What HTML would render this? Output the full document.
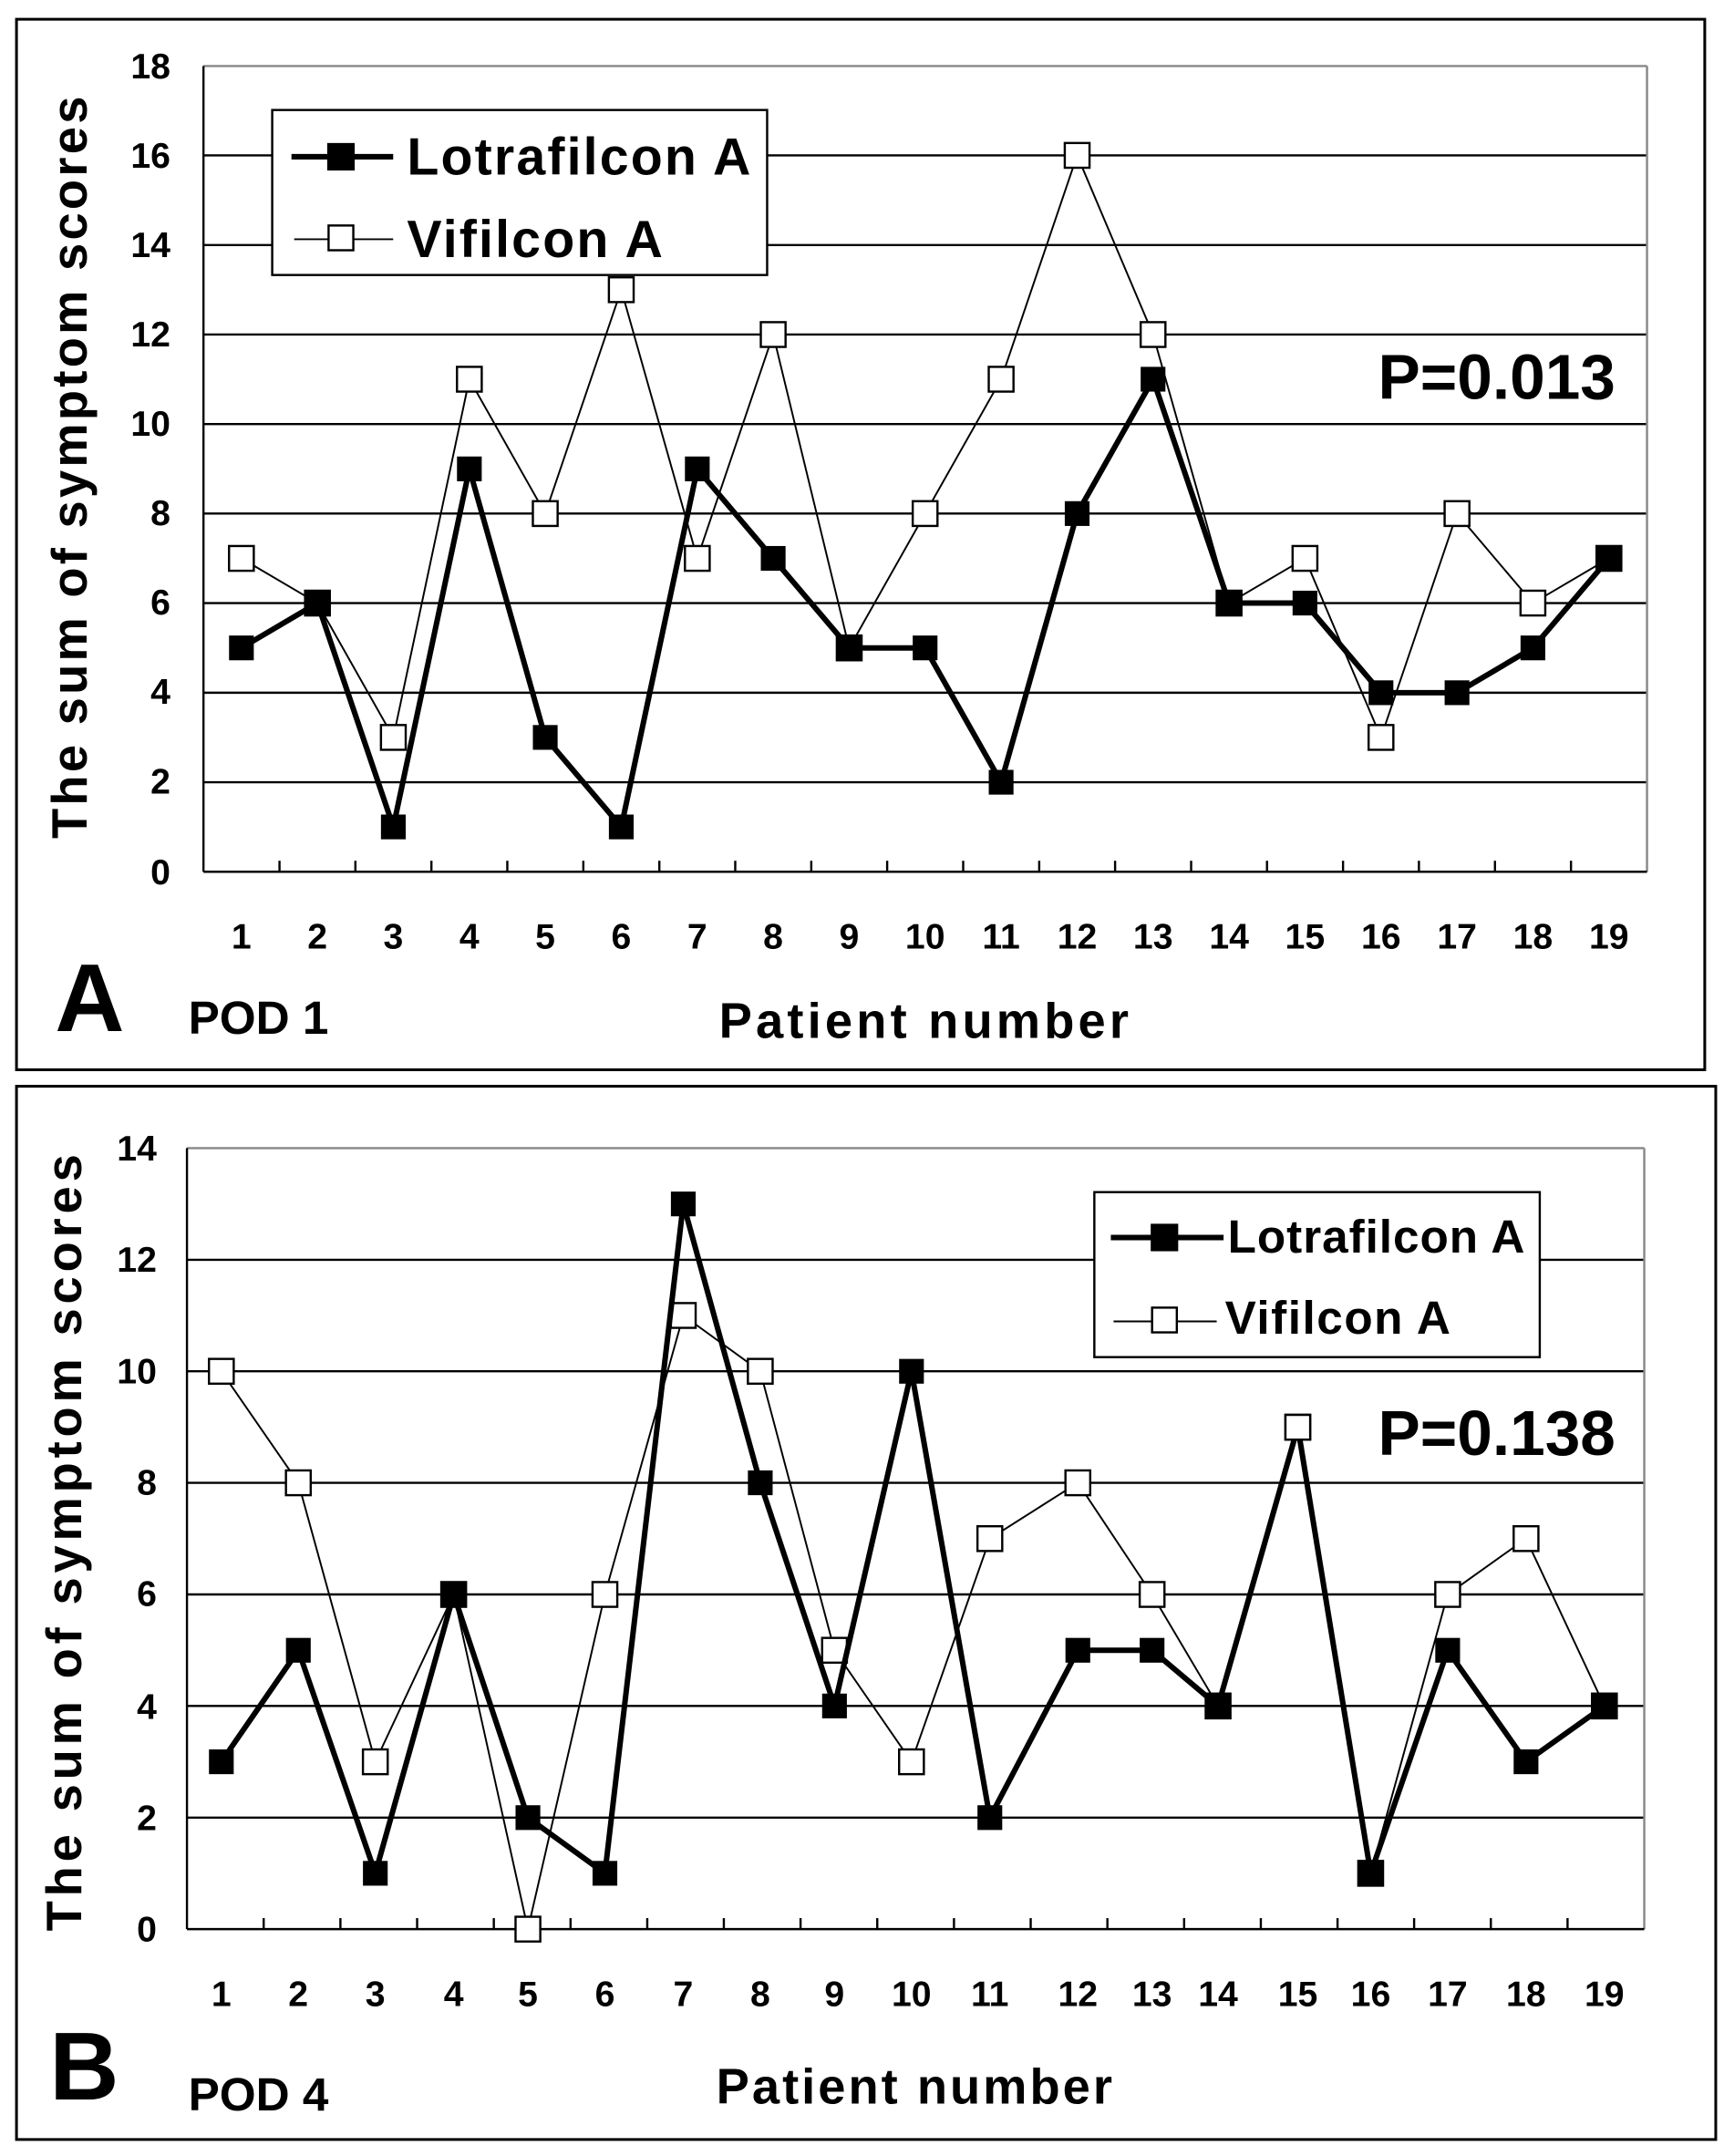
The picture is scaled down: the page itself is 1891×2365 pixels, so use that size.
<!DOCTYPE html>
<html><head><style>html,body{margin:0;padding:0;background:#fff}svg{display:block}</style></head>
<body>
<svg width="1891" height="2365" viewBox="0 0 1254 1568" preserveAspectRatio="none" xmlns="http://www.w3.org/2000/svg" font-family="Liberation Sans, Arial, sans-serif" font-weight="bold">
<defs>
<marker id="mf" markerUnits="userSpaceOnUse" markerWidth="22" markerHeight="22" refX="11" refY="11" overflow="visible"><rect x="2" y="2" width="18" height="18" fill="#000"/></marker>
<marker id="mo" markerUnits="userSpaceOnUse" markerWidth="22" markerHeight="22" refX="11" refY="11" overflow="visible"><rect x="2" y="2" width="18" height="18" fill="#fff" stroke="#000" stroke-width="1.6"/></marker>
</defs>
<rect width="1254" height="1568" fill="#fff"/>
<!-- Panel A -->
<rect x="12" y="14" width="1228" height="764" fill="none" stroke="#000" stroke-width="2"/>
<g stroke="#000" stroke-width="1.6">
<line x1="148" y1="48" x2="1198" y2="48" stroke="#888"/>
<line x1="148" y1="113" x2="1198" y2="113"/><line x1="148" y1="178.2" x2="1198" y2="178.2"/><line x1="148" y1="243.3" x2="1198" y2="243.3"/><line x1="148" y1="308.4" x2="1198" y2="308.4"/><line x1="148" y1="373.5" x2="1198" y2="373.5"/><line x1="148" y1="438.6" x2="1198" y2="438.6"/><line x1="148" y1="503.8" x2="1198" y2="503.8"/><line x1="148" y1="568.9" x2="1198" y2="568.9"/>
<line x1="148" y1="48" x2="148" y2="634"/><line x1="1198" y1="48" x2="1198" y2="634" stroke="#888"/>
<line x1="148" y1="634" x2="1198" y2="634"/>
</g>
<g stroke="#000" stroke-width="1.6">
<line x1="203.3" y1="626" x2="203.3" y2="634"/><line x1="258.5" y1="626" x2="258.5" y2="634"/><line x1="313.8" y1="626" x2="313.8" y2="634"/><line x1="369" y1="626" x2="369" y2="634"/><line x1="424.3" y1="626" x2="424.3" y2="634"/><line x1="479.6" y1="626" x2="479.6" y2="634"/><line x1="534.8" y1="626" x2="534.8" y2="634"/><line x1="590.1" y1="626" x2="590.1" y2="634"/><line x1="645.3" y1="626" x2="645.3" y2="634"/><line x1="700.6" y1="626" x2="700.6" y2="634"/><line x1="755.9" y1="626" x2="755.9" y2="634"/><line x1="811.1" y1="626" x2="811.1" y2="634"/><line x1="866.4" y1="626" x2="866.4" y2="634"/><line x1="921.6" y1="626" x2="921.6" y2="634"/><line x1="976.9" y1="626" x2="976.9" y2="634"/><line x1="1032.1" y1="626" x2="1032.1" y2="634"/><line x1="1087.4" y1="626" x2="1087.4" y2="634"/><line x1="1142.7" y1="626" x2="1142.7" y2="634"/>
</g>
<polyline fill="none" stroke="#000" stroke-width="1.3" marker-start="url(#mo)" marker-mid="url(#mo)" marker-end="url(#mo)" points="175.6,406.1 230.9,438.6 286.1,536.3 341.4,275.8 396.6,373.5 451.9,210.7 507.2,406.1 562.4,243.3 617.7,471.2 672.9,373.5 728.2,275.8 783.5,113 838.7,243.3 894,438.6 949.2,406.1 1004.5,536.3 1059.8,373.5 1115,438.6 1170.3,406.1"/>
<polyline fill="none" stroke="#000" stroke-width="4" marker-start="url(#mf)" marker-mid="url(#mf)" marker-end="url(#mf)" points="175.6,471.2 230.9,438.6 286.1,601.4 341.4,341 396.6,536.3 451.9,601.4 507.2,341 562.4,406.1 617.7,471.2 672.9,471.2 728.2,568.9 783.5,373.5 838.7,275.8 894,438.6 949.2,438.6 1004.5,503.8 1059.8,503.8 1115,471.2 1170.3,406.1"/>
<rect x="198" y="80" width="360" height="120" fill="#fff" stroke="#000" stroke-width="1.6"/>
<line x1="212" y1="114" x2="286" y2="114" stroke="#000" stroke-width="4"/><rect x="238" y="104" width="20" height="20" fill="#000"/>
<line x1="214" y1="174" x2="286" y2="174" stroke="#000" stroke-width="1.3"/><rect x="239" y="164" width="18" height="18" fill="#fff" stroke="#000" stroke-width="1.6"/>
<text x="296" y="127" font-size="38" textLength="250">Lotrafilcon A</text>
<text x="296" y="187" font-size="38" textLength="186">Vifilcon A</text>
<text x="1175" y="290" font-size="46" text-anchor="end">P=0.013</text>
<g font-size="26" text-anchor="end">
<text x="124" y="57">18</text><text x="124" y="122">16</text><text x="124" y="187">14</text><text x="124" y="252">12</text><text x="124" y="317">10</text><text x="124" y="382">8</text><text x="124" y="447">6</text><text x="124" y="512">4</text><text x="124" y="577">2</text><text x="124" y="643">0</text>
</g>
<g font-size="26" text-anchor="middle">
<text x="175.6" y="690">1</text><text x="230.9" y="690">2</text><text x="286.1" y="690">3</text><text x="341.4" y="690">4</text><text x="396.6" y="690">5</text><text x="451.9" y="690">6</text><text x="507.2" y="690">7</text><text x="562.4" y="690">8</text><text x="617.7" y="690">9</text><text x="672.9" y="690">10</text><text x="728.2" y="690">11</text><text x="783.5" y="690">12</text><text x="838.7" y="690">13</text><text x="894" y="690">14</text><text x="949.2" y="690">15</text><text x="1004.5" y="690">16</text><text x="1059.8" y="690">17</text><text x="1115" y="690">18</text><text x="1170.3" y="690">19</text>
</g>
<text transform="translate(63,340) rotate(-90)" font-size="36" text-anchor="middle" textLength="540">The sum of symptom scores</text>
<text x="40" y="750" font-size="70">A</text>
<text x="137" y="752" font-size="34">POD 1</text>
<text x="672" y="755" font-size="36" text-anchor="middle" textLength="298">Patient number</text>

<!-- Panel B -->
<rect x="12" y="790" width="1236" height="766" fill="none" stroke="#000" stroke-width="2"/>
<g stroke="#000" stroke-width="1.6">
<line x1="136" y1="835" x2="1196" y2="835" stroke="#888"/>
<line x1="136" y1="916.2" x2="1196" y2="916.2"/><line x1="136" y1="997.3" x2="1196" y2="997.3"/><line x1="136" y1="1078.4" x2="1196" y2="1078.4"/><line x1="136" y1="1159.6" x2="1196" y2="1159.6"/><line x1="136" y1="1240.7" x2="1196" y2="1240.7"/><line x1="136" y1="1321.9" x2="1196" y2="1321.9"/>
<line x1="136" y1="835" x2="136" y2="1403"/><line x1="1196" y1="835" x2="1196" y2="1403" stroke="#888"/>
<line x1="136" y1="1403" x2="1196" y2="1403"/>
<line x1="191.8" y1="1395" x2="191.8" y2="1403"/><line x1="247.6" y1="1395" x2="247.6" y2="1403"/><line x1="303.4" y1="1395" x2="303.4" y2="1403"/><line x1="359.2" y1="1395" x2="359.2" y2="1403"/><line x1="415" y1="1395" x2="415" y2="1403"/><line x1="470.8" y1="1395" x2="470.8" y2="1403"/><line x1="526.5" y1="1395" x2="526.5" y2="1403"/><line x1="582.3" y1="1395" x2="582.3" y2="1403"/><line x1="638.1" y1="1395" x2="638.1" y2="1403"/><line x1="693.9" y1="1395" x2="693.9" y2="1403"/><line x1="749.7" y1="1395" x2="749.7" y2="1403"/><line x1="805.5" y1="1395" x2="805.5" y2="1403"/><line x1="861.3" y1="1395" x2="861.3" y2="1403"/><line x1="917.1" y1="1395" x2="917.1" y2="1403"/><line x1="972.9" y1="1395" x2="972.9" y2="1403"/><line x1="1028.6" y1="1395" x2="1028.6" y2="1403"/><line x1="1084.4" y1="1395" x2="1084.4" y2="1403"/><line x1="1140.2" y1="1395" x2="1140.2" y2="1403"/>
</g>
<polyline fill="none" stroke="#000" stroke-width="1.3" marker-start="url(#mo)" marker-mid="url(#mo)" marker-end="url(#mo)" points="161,997.3 217,1078.4 273,1281.3 330,1159.6 384,1403 440,1159.6 497,956.7 553,997.3 607,1200.2 663,1281.3 720,1119 784,1078.4 838,1159.6 886,1240.7 944,1037.9 997,1362.4 1053,1159.6 1110,1119 1167,1240.7"/>
<polyline fill="none" stroke="#000" stroke-width="4" marker-start="url(#mf)" marker-mid="url(#mf)" marker-end="url(#mf)" points="161,1281.3 217,1200.2 273,1362.4 330,1159.6 384,1321.9 440,1362.4 497,875.6 553,1078.4 607,1240.7 663,997.3 720,1321.9 784,1200.2 838,1200.2 886,1240.7 944,1037.9 997,1362.4 1053,1200.2 1110,1281.3 1167,1240.7"/>
<rect x="796" y="867" width="324" height="120" fill="#fff" stroke="#000" stroke-width="1.6"/>
<line x1="808" y1="900" x2="890" y2="900" stroke="#000" stroke-width="4"/><rect x="837" y="890" width="20" height="20" fill="#000"/>
<line x1="810" y1="961" x2="885" y2="961" stroke="#000" stroke-width="1.3"/><rect x="838" y="951" width="18" height="18" fill="#fff" stroke="#000" stroke-width="1.6"/>
<text x="893" y="911" font-size="34" textLength="216">Lotrafilcon A</text>
<text x="891" y="970" font-size="34" textLength="164">Vifilcon A</text>
<rect x="935" y="1029" width="18" height="18" fill="#fff" stroke="#000" stroke-width="1.6"/>
<text x="1175" y="1058" font-size="46" text-anchor="end">P=0.138</text>
<g font-size="26" text-anchor="end">
<text x="114" y="844">14</text><text x="114" y="925">12</text><text x="114" y="1006">10</text><text x="114" y="1087">8</text><text x="114" y="1168">6</text><text x="114" y="1250">4</text><text x="114" y="1331">2</text><text x="114" y="1412">0</text>
</g>
<g font-size="26" text-anchor="middle">
<text x="161" y="1459">1</text><text x="217" y="1459">2</text><text x="273" y="1459">3</text><text x="330" y="1459">4</text><text x="384" y="1459">5</text><text x="440" y="1459">6</text><text x="497" y="1459">7</text><text x="553" y="1459">8</text><text x="607" y="1459">9</text><text x="663" y="1459">10</text><text x="720" y="1459">11</text><text x="784" y="1459">12</text><text x="838" y="1459">13</text><text x="886" y="1459">14</text><text x="944" y="1459">15</text><text x="997" y="1459">16</text><text x="1053" y="1459">17</text><text x="1110" y="1459">18</text><text x="1167" y="1459">19</text>
</g>
<text transform="translate(59,1122) rotate(-90)" font-size="36" text-anchor="middle" textLength="565">The sum of symptom scores</text>
<text x="36" y="1527" font-size="70">B</text>
<text x="137" y="1535" font-size="34">POD 4</text>
<text x="665" y="1530" font-size="36" text-anchor="middle" textLength="288">Patient number</text>
</svg>
</body></html>
